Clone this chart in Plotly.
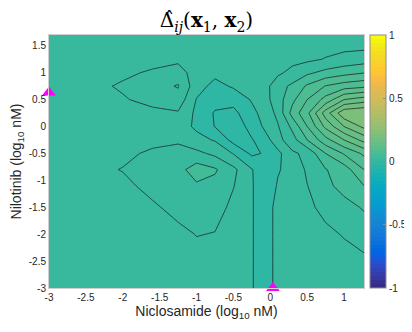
import plotly.graph_objects as go

# grid of the surface (log10 nM)
nic_x = [-3, -2.5, -2, -1.6, -1.25, -1, -0.75, -0.5, -0.25, -0.1, 0.1, 0.3, 0.5, 0.75, 1, 1.27]
nil_y = [-3, -2.5, -2, -1.5, -1.1, -0.8, -0.5, -0.25, 0, 0.25, 0.5, 0.75, 1, 1.25, 1.5, 1.7]

# delta values, one row per nil_y entry
row_m300 = [0.01, 0.01, 0.01, 0.01, 0.01, 0.01, 0.01, 0.008, 0.0015, -0.01, 0.005, 0.008, 0.009, 0.01, 0.011, 0.009]
row_m250 = [0.01, 0.01, 0.01, 0.01, 0.01, 0.01, 0.01, 0.008, 0.0015, -0.01, 0.005, 0.009, 0.011, 0.013, 0.015, 0.016]
row_m200 = [0.01, 0.01, 0.01, 0.011, 0.012, 0.021, 0.019, 0.01, 0.0015, -0.01, 0.005, 0.011, 0.014, 0.017, 0.021, 0.029]
row_m150 = [0.01, 0.01, 0.01, 0.015, 0.03, 0.032, 0.03, 0.014, 0.0015, -0.01, 0.005, 0.013, 0.017, 0.024, 0.033, 0.042]
row_m110 = [0.01, 0.01, 0.012, 0.03, 0.033, 0.037, 0.034, 0.021, 0.0015, -0.01, 0.001, 0.012, 0.0195, 0.035, 0.047, 0.06]
row_m080 = [0.01, 0.01, 0.0214, 0.028, 0.033, 0.05, 0.0425, 0.0248, 0.001, -0.01, -0.001, 0.004, 0.0236, 0.039, 0.05, 0.08]
row_m050 = [0.01, 0.01, 0.012, 0.026, 0.034, 0.025, 0.0154, -0.001, -0.024, -0.019, -0.006, 0.017, 0.0245, 0.06, 0.082, 0.104]
row_m025 = [0.01, 0.01, 0.01, 0.01, 0.014, 0.006, -0.0015, -0.027, -0.021, -0.0135, 0.0135, 0.032, 0.06, 0.093, 0.12, 0.147]
row_p000 = [0.01, 0.01, 0.01, 0.01, 0.009, -0.0035, -0.0207, -0.03, -0.0144, 0.0011, 0.018, 0.045, 0.08, 0.125, 0.16, 0.185]
row_p025 = [0.01, 0.01, 0.01, 0.012, 0.018, -0.0045, -0.022, -0.026, -0.0046, 0.0046, 0.025, 0.068, 0.095, 0.15, 0.195, 0.2]
row_p050 = [0.01, 0.01, 0.017, 0.03, 0.032, -0.001, -0.012, -0.012, 0.0016, 0.01, 0.031, 0.055, 0.08, 0.107, 0.14, 0.15]
row_p075 = [0.01, 0.01, 0.024, 0.032, 0.0415, 0.008, -0.006, 0.0023, 0.008, 0.01, 0.032, 0.044, 0.063, 0.081, 0.09, 0.095]
row_p100 = [0.01, 0.01, 0.014, 0.024, 0.03, 0.009, 0.005, 0.008, 0.01, 0.01, 0.016, 0.026, 0.036, 0.046, 0.053, 0.059]
row_p125 = [0.01, 0.01, 0.01, 0.009, 0.015, 0.01, 0.01, 0.01, 0.01, 0.01, 0.012, 0.014, 0.016, 0.021, 0.026, 0.03]
row_p150 = [0.01, 0.01, 0.01, 0.01, 0.01, 0.01, 0.01, 0.01, 0.01, 0.01, 0.011, 0.012, 0.013, 0.014, 0.015, 0.015]
row_p170 = [0.01, 0.01, 0.01, 0.01, 0.01, 0.01, 0.01, 0.01, 0.01, 0.01, 0.01, 0.011, 0.011, 0.012, 0.012, 0.012]

delta_z = [row_m300, row_m250, row_m200, row_m150, row_m110, row_m080, row_m050, row_m025,
           row_p000, row_p025, row_p050, row_p075, row_p100, row_p125, row_p150, row_p170]

# pink markers on the axes
mark_x = [-3, 0.035]
mark_y = [0.63, -3]

x_ticks = [-3, -2.5, -2, -1.5, -1, -0.5, 0, 0.5, 1]
y_ticks = [-3, -2.5, -2, -1.5, -1, -0.5, 0, 0.5, 1, 1.5]
cb_ticks = [-1, -0.5, 0, 0.5, 1]

# matlab parula (64)
parula = [
    (0.2081, 0.1663, 0.5292), (0.2116, 0.1898, 0.5777), (0.2123, 0.2138, 0.6270), (0.2081, 0.2386, 0.6771),
    (0.1959, 0.2645, 0.7279), (0.1707, 0.2919, 0.7792), (0.1253, 0.3242, 0.8303), (0.0591, 0.3598, 0.8683),
    (0.0117, 0.3875, 0.8820), (0.0060, 0.4086, 0.8828), (0.0165, 0.4266, 0.8786), (0.0329, 0.4430, 0.8720),
    (0.0498, 0.4586, 0.8641), (0.0629, 0.4737, 0.8554), (0.0723, 0.4887, 0.8467), (0.0779, 0.5040, 0.8384),
    (0.0794, 0.5200, 0.8312), (0.0749, 0.5375, 0.8263), (0.0641, 0.5570, 0.8240), (0.0488, 0.5772, 0.8228),
    (0.0343, 0.5966, 0.8199), (0.0265, 0.6137, 0.8135), (0.0239, 0.6287, 0.8038), (0.0231, 0.6418, 0.7913),
    (0.0228, 0.6535, 0.7768), (0.0267, 0.6642, 0.7607), (0.0384, 0.6743, 0.7436), (0.0590, 0.6838, 0.7254),
    (0.0843, 0.6928, 0.7062), (0.1133, 0.7015, 0.6859), (0.1453, 0.7098, 0.6646), (0.1801, 0.7177, 0.6424),
    (0.2178, 0.7250, 0.6193), (0.2586, 0.7317, 0.5954), (0.3022, 0.7376, 0.5712), (0.3482, 0.7424, 0.5473),
    (0.3953, 0.7459, 0.5244), (0.4420, 0.7481, 0.5033), (0.4871, 0.7491, 0.4840), (0.5300, 0.7491, 0.4661),
    (0.5709, 0.7485, 0.4494), (0.6099, 0.7473, 0.4337), (0.6473, 0.7456, 0.4188), (0.6834, 0.7435, 0.4044),
    (0.7184, 0.7411, 0.3905), (0.7525, 0.7384, 0.3768), (0.7858, 0.7356, 0.3633), (0.8185, 0.7327, 0.3498),
    (0.8507, 0.7299, 0.3360), (0.8824, 0.7274, 0.3217), (0.9139, 0.7258, 0.3063), (0.9450, 0.7261, 0.2886),
    (0.9739, 0.7314, 0.2666), (0.9938, 0.7455, 0.2403), (0.9990, 0.7653, 0.2164), (0.9955, 0.7861, 0.1967),
    (0.9880, 0.8066, 0.1794), (0.9789, 0.8271, 0.1633), (0.9697, 0.8481, 0.1475), (0.9626, 0.8705, 0.1309),
    (0.9589, 0.8949, 0.1132), (0.9598, 0.9218, 0.0948), (0.9661, 0.9514, 0.0755), (0.9763, 0.9831, 0.0538),
]
clim = (-1, 1)
lev_step = 0.02


def stepped_scale(lo, hi):
    # 64 flat colour bins over clim, expressed as fractions of [lo, hi]
    n = len(parula)
    stops = []
    for k, (r, g, b) in enumerate(parula):
        col = 'rgb(%d,%d,%d)' % (round(r * 255), round(g * 255), round(b * 255))
        a = clim[0] + k * (clim[1] - clim[0]) / n
        e = clim[0] + (k + 1) * (clim[1] - clim[0]) / n
        fa = min(max((a - lo) / (hi - lo), 0), 1)
        fe = min(max((e - lo) / (hi - lo), 0), 1)
        if k == 0:
            fa = 0
        if k == n - 1:
            fe = 1
        stops.append([fa, col])
        stops.append([fe, col])
    return stops


def tick_txt(v):
    return ('%g' % v)


fig = go.Figure()
# contour fill colours span start-size/2 .. end+size/2
fig.add_trace(go.Contour(
    x=nic_x, y=nil_y, z=delta_z,
    colorscale=stepped_scale(clim[0] - lev_step / 2, clim[1] + lev_step / 2),
    autocontour=False,
    contours=dict(start=clim[0], end=clim[1], size=lev_step, coloring='fill'),
    line=dict(color='rgba(20,20,20,0.85)', width=0.8, smoothing=0),
    hoverinfo='skip', showscale=False,
))

# colour bar
fig.add_trace(go.Scatter(
    x=[None], y=[None], mode='markers', hoverinfo='skip', showlegend=False,
    marker=dict(
        color=[0], cmin=clim[0], cmax=clim[1], colorscale=stepped_scale(clim[0], clim[1]), showscale=True,
        colorbar=dict(
            thickness=16, thicknessmode='pixels',
            len=253, lenmode='pixels',
            x=1.019, xanchor='left', xpad=0,
            y=0.5, yanchor='middle', ypad=0,
            outlinewidth=1, outlinecolor='#8c8c8c',
            tickvals=cb_ticks, ticktext=[tick_txt(v) for v in cb_ticks],
            ticks='inside', ticklen=3, tickcolor='#8c8c8c',
            tickfont=dict(size=10, color='#262626', family='Liberation Sans'),
        ),
    ),
))

fig.add_trace(go.Scatter(
    x=mark_x, y=mark_y, mode='markers',
    marker=dict(symbol='triangle-up', size=12, color='#ff00ff'),
    cliponaxis=False, showlegend=False, hoverinfo='skip'
))

# page body adds an 8px offset, so the figure is 8px smaller
fig.update_layout(
    width=404, height=324,
    margin=dict(l=41, r=48, t=27, b=44, autoexpand=False),
    paper_bgcolor='white', plot_bgcolor='white',
    font=dict(family='Liberation Sans', size=10, color='#262626'),
    title=dict(
        text='Δ̂<sub><i>ij</i></sub>(<b>x</b><sub>1</sub>, <b>x</b><sub>2</sub>)',
        x=0.5, xref='paper', xanchor='center',
        y=0.962, yref='container', yanchor='middle',
        font=dict(family='DejaVu Serif', size=20, color='black'),
    ),
    showlegend=False,
)
fig.update_xaxes(
    range=[-3, 1.27], tickvals=x_ticks, ticktext=[tick_txt(v) for v in x_ticks],
    showgrid=False, zeroline=False, showline=True, linecolor='#cfcfcf', linewidth=1, mirror=True,
    ticks='', tickfont=dict(size=10, color='#262626'), automargin=False,
    title=dict(text='Niclosamide (log<sub>10</sub> nM)', font=dict(size=14, color='#262626'), standoff=0),
)
fig.update_yaxes(
    range=[-3, 1.7], tickvals=y_ticks, ticktext=[tick_txt(v) for v in y_ticks],
    showgrid=False, zeroline=False, showline=True, linecolor='#cfcfcf', linewidth=1, mirror=True,
    ticks='', tickfont=dict(size=10, color='#262626'), automargin=False,
    title=dict(text='Nilotinib (log<sub>10</sub> nM)', font=dict(size=14, color='#262626'), standoff=14),
)

fig.write_html("out.html")
